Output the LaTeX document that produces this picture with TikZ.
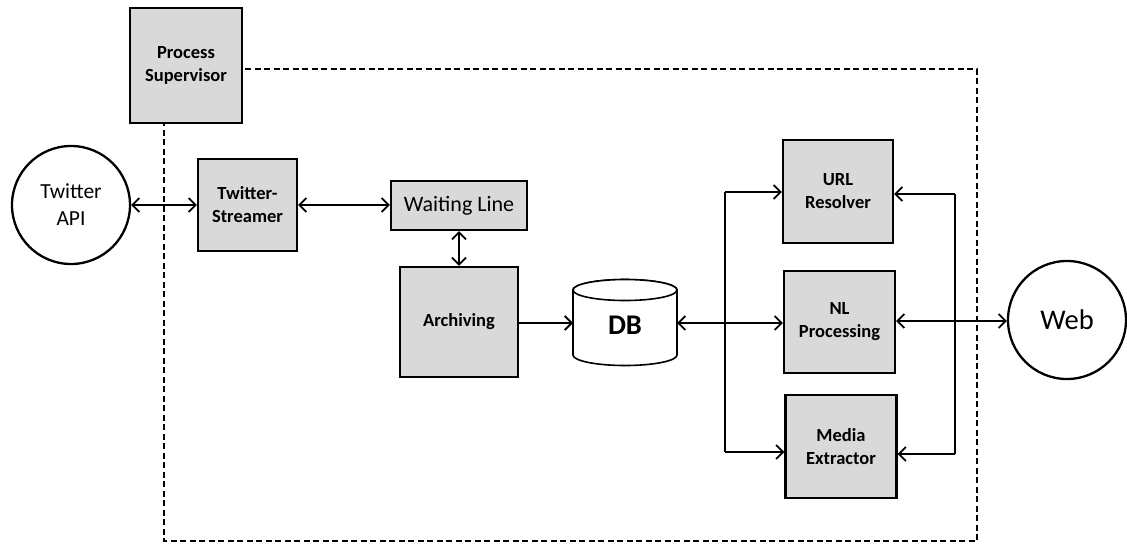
\documentclass[tikz,border=0pt]{standalone}
\usepackage{fontspec}
\setmainfont{Carlito}
\usetikzlibrary{arrows.meta}
\definecolor{boxgray}{HTML}{D9D9D9}
\tikzset{
  x=1pt,y=-1pt,
  procbox/.style={draw=black,line width=2.3pt,fill=boxgray,inner sep=0pt,align=center,
    font=\fontsize{18.5}{23}\selectfont\bfseries},
  endpoint/.style={draw=black,line width=2.3pt,circle,inner sep=0pt,align=center},
  conn/.style={line width=1.8pt,-{Straight Barb[length=7pt,width=14pt,line width=1.8pt]}},
  biconn/.style={line width=1.8pt,{Straight Barb[length=7pt,width=14pt,line width=1.8pt]}-{Straight Barb[length=7pt,width=14pt,line width=1.8pt]}},
  plain/.style={line width=1.8pt},
  frame/.style={line width=1.2pt,dash pattern=on 6pt off 3.5pt},
  cyl/.style={draw=black,line width=1.6pt,fill=white},
}
\begin{document}
\begin{tikzpicture}
\useasboundingbox (0,0) rectangle (1127,544);
% dashed frame
\coordinate (fA) at (245,69);
\coordinate (fB) at (977,69);
\coordinate (fC) at (977,541);
\coordinate (fD) at (164,541);
\coordinate (fE) at (164,124);
\draw[frame] (fA) -- (fB) -- (fC) -- (fD) -- (fE);
% nodes
\node[procbox,minimum width=112pt,minimum height=115pt] (ps) at (186,65.5) {Process\\Supervisor};
\node[endpoint,minimum size=118pt,font=\fontsize{21.5}{27}\selectfont,fill=white] (api) at (71,205) {Twitter\\API};
\node[procbox,minimum width=99pt,minimum height=92pt] (ts) at (247.5,205) {Twitter-\\Streamer};
\node[procbox,minimum width=136pt,minimum height=49pt,font=\fontsize{22}{26}\selectfont] (wl) at (459,205.5) {Waiting Line};
\node[procbox,minimum width=118pt,minimum height=110pt] (ar) at (459,322) {Archiving};
% database cylinder
\path[cyl] (573,290) -- (573,355) arc[start angle=180,end angle=0,x radius=52,y radius=10.5]
  -- (677,290) arc[start angle=0,end angle=-180,x radius=52,y radius=10.5] -- cycle;
\draw[cyl] (625,290) ellipse[x radius=52,y radius=10.5];
\node[minimum width=104pt,minimum height=86pt,inner sep=0pt,
      font=\fontsize{28.5}{30}\selectfont\bfseries] (db) at (625,325) {DB};
\node[procbox,minimum width=110pt,minimum height=103pt] (url) at (838,191.5) {URL\\Resolver};
\node[procbox,minimum width=111pt,minimum height=102pt] (nl) at (839.5,322) {NL\\Processing};
\node[procbox,minimum width=111pt,minimum height=103pt] (me) at (841,446.5) {Media\\Extractor};
\node[endpoint,minimum size=118pt,font=\fontsize{28.5}{30}\selectfont,fill=white] (web) at (1067,320) {Web};
% junction coordinates
\coordinate (jl1) at (725,192);
\coordinate (jl2) at (725,452);
\coordinate (jr1) at (955,194);
\coordinate (jr2) at (955,454);
% connectors
\draw[biconn] (api.east) -- (ts.west);
\draw[biconn] (ts.east) -- (wl.west |- ts.east);
\draw[biconn] (wl.south) -- (ar.north);
\draw[conn] (ar.east |- 0,323) -- (573,323);
\draw[biconn] (677,323) -- (nl.west |- 0,323);
\draw[plain] (jl1) -- (jl2);
\draw[conn] (jl1) -- (url.west |- jl1);
\draw[conn] (jl2) -- (me.west |- jl2);
\draw[plain] (jr1) -- (jr2);
\draw[conn] (jr1) -- (url.east |- jr1);
\draw[conn] (jr2) -- (me.east |- jr2);
\draw[biconn] (nl.east |- 0,321) -- (web.west |- 0,321);
\end{tikzpicture}
\end{document}
